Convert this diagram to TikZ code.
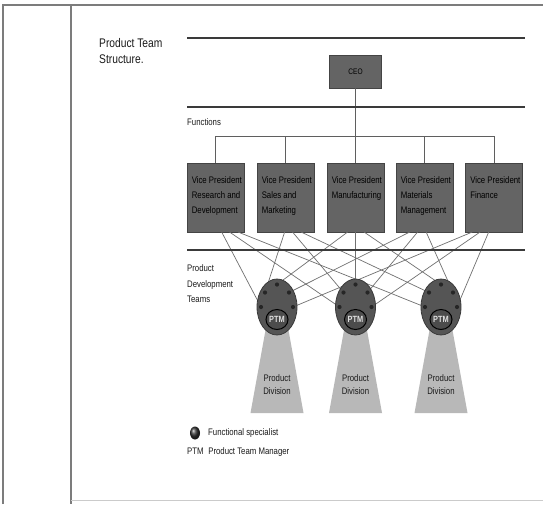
\documentclass[tikz,border=0pt]{standalone}
\usepackage{fontspec}
\setmainfont[FakeStretch=0.82]{Liberation Sans}
\usetikzlibrary{shapes.geometric}

\definecolor{framec}{HTML}{7C7C7C}
\definecolor{barc}{HTML}{3A3A3A}
\definecolor{boxc}{HTML}{646464}
\definecolor{boxedge}{HTML}{444444}
\definecolor{inkc}{HTML}{1A1A1A}
\definecolor{linkc}{HTML}{707070}
\definecolor{teamc}{HTML}{555555}
\definecolor{teamedge}{HTML}{3A3A3A}
\definecolor{dotc}{HTML}{262626}
\definecolor{divc}{HTML}{B8B8B8}

\tikzset{
  smalltext/.style={font=\fontsize{9.5}{15}\selectfont, text=inkc, inner sep=0pt},
  boxtext/.style={smalltext, text=black, anchor=north west, align=left},
  bar/.style={draw=barc, line width=2.6pt},
  orgline/.style={draw=linkc!85!black, line width=0.8pt},
  link/.style={draw=linkc, line width=0.7pt},
  vpbox/.style={draw=boxedge, line width=0.8pt, fill=boxc, minimum width=57pt, minimum height=69pt, inner sep=0pt},
  ceobox/.style={vpbox, minimum width=52pt, minimum height=33pt, font=\fontsize{8}{8}\selectfont, text=black},
  team/.style={ellipse, draw=teamedge, line width=0.8pt, fill=teamc, minimum width=40pt, minimum height=56pt, inner sep=0pt},
  spec/.style={circle, fill=dotc, minimum size=4.2pt, inner sep=0pt},
  ptm/.style={ellipse, draw=black, line width=1pt, fill=teamc!90!black, minimum width=22pt, minimum height=20pt, inner sep=0pt, font=\fontsize{9}{9}\selectfont\bfseries, text=white!88!black},
  division/.style={fill=divc},
}

\begin{document}
\begin{tikzpicture}[x=1pt, y=-1pt]
\useasboundingbox (0,0) rectangle (543,504);
\fill[white] (0,0) rectangle (543,504);

% page frame
\draw[framec, line width=1.3pt] (3,504) -- (3,5) -- (543,5);
\draw[framec, line width=1.3pt] (71,5) -- (71,504);
\draw[framec!40, line width=0.8pt] (71,500) -- (543,500);

% caption
\node[font=\fontsize{12.5}{16}\selectfont, text=inkc, anchor=north west, align=left, inner sep=0pt] (title) at (99,38) {Product Team\\Structure.};

% chief executive and functional heads
\node[ceobox] (ceo) at (355.5,71.5) {CEO};
\foreach \i/\cx in {1/215.5,2/285.5,3/355.5,4/424.5,5/494}
  \node[vpbox] (vp\i) at (\cx,197.5) {};

\coordinate (hub) at (355.5,136);
\draw[orgline] (ceo.south) -- (hub);
\draw[orgline] (vp1.north) -- (vp1.north |- hub) -- (vp5.north |- hub) -- (vp5.north);
\foreach \i in {2,3,4}
  \draw[orgline] (vp\i.north) -- (vp\i.north |- hub);

\node[boxtext] (vp1t) at ([xshift=5pt,yshift=-13.7pt]vp1.north west) {Vice President\\Research and\\Development};
\node[boxtext] (vp2t) at ([xshift=5pt,yshift=-13.7pt]vp2.north west) {Vice President\\Sales and\\Marketing};
\node[boxtext] (vp3t) at ([xshift=5pt,yshift=-13.7pt]vp3.north west) {Vice President\\Manufacturing};
\node[boxtext] (vp4t) at ([xshift=5pt,yshift=-13.7pt]vp4.north west) {Vice President\\Materials\\Management};
\node[boxtext] (vp5t) at ([xshift=5pt,yshift=-13.7pt]vp5.north west) {Vice President\\Finance};

\node[smalltext, anchor=north west] (functions) at (187,118.7) {Functions};

% link end points: box bottoms and specialist seats in each team
\foreach \i/\cx in {1/215.5,2/285.5,3/355.5,4/424.5,5/494}
  \foreach \j/\tx in {1/277,2/355.5,3/441} {
    \pgfmathsetmacro\sx{\cx+0.1*(\tx-\cx)}
    \coordinate (s\i\j) at (\sx,232);
  }
\foreach \j/\tx in {1/277,2/355.5,3/441}
  \foreach \i/\dx/\dy in {1/-16/0, 2/-12/-14.5, 3/0/-22.5, 4/12/-14.5, 5/16/0} {
    \pgfmathsetmacro\px{\tx+\dx}
    \pgfmathsetmacro\py{307+\dy}
    \coordinate (p\j\i) at (\px,\py);
  }

% every function staffs every product team
\foreach \i in {1,...,5}
  \foreach \j in {1,2,3}
    \draw[link] (s\i\j) -- (p\j\i);

% level separators
\draw[bar] (187,38) -- (525,38);
\draw[bar] (187,107) -- (525,107);
\draw[bar] (187,250) -- (525,250);

\node[smalltext, font=\fontsize{9.5}{15.5}\selectfont, anchor=north west, align=left] (pdt) at (187,264.6) {Product\\Development\\Teams};

% product teams with their divisions
\foreach \j/\tx in {1/277,2/355.5,3/441} {
  \fill[division] (\tx-10,322) -- (\tx+10,322) -- (\tx+26.5,413) -- (\tx-26.5,413) -- cycle;
  \node[team] (t\j) at (\tx,307) {};
  \node[ptm] (m\j) at (\tx,319.5) {PTM};
  \foreach \i in {1,...,5}
    \node[spec] (d\j\i) at (p\j\i) {};
  \node[smalltext, font=\fontsize{9.5}{12.7}\selectfont, anchor=north, align=center] (div\j) at (\tx,374.6) {Product\\Division};
}

% legend
\node[ellipse, minimum width=10pt, minimum height=13pt, inner sep=0pt, shading=ball, ball color=black!80] (legdot) at (195,433) {};
\node[smalltext, anchor=west] (legspec) at (208,433) {Functional specialist};
\node[smalltext, anchor=west] (legptm) at (187,452) {PTM\hspace{2.5pt} Product Team Manager};
\end{tikzpicture}
\end{document}
